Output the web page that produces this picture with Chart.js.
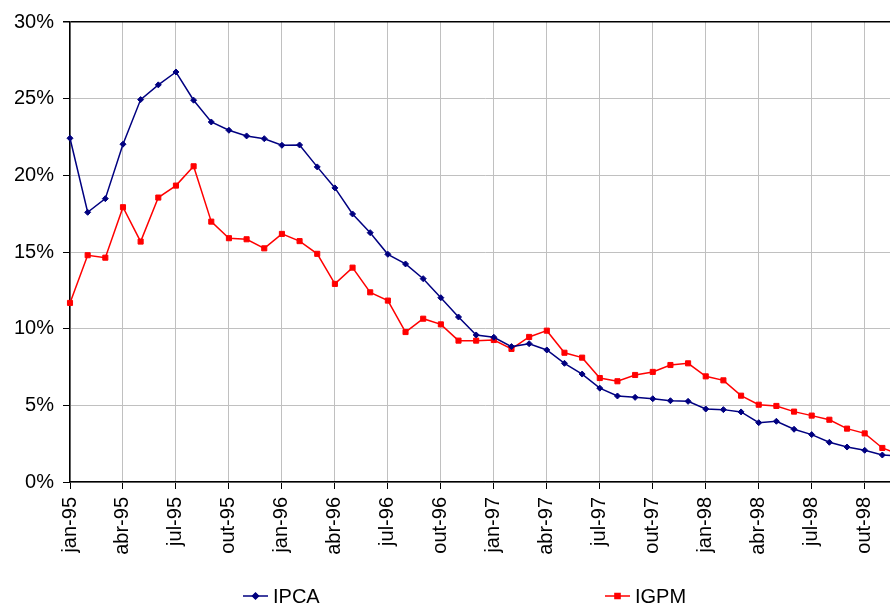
<!DOCTYPE html>
<html lang="pt">
  <head>
    <meta charset="utf-8" />
    <title>IPCA x IGPM</title>
    <script src="https://cdn.jsdelivr.net/npm/chart.js"></script>
    <style>
      html, body { margin: 0; padding: 0; background: #fff; overflow: hidden; }
      #wrap { position: relative; width: 905px; height: 604px; }
    </style>
  </head>
  <body>
    <div id="wrap"><canvas id="myChart"></canvas></div>
    <script>
      const monthNames = ["jan", "fev", "mar", "abr", "mai", "jun", "jul", "ago", "set", "out", "nov", "dez"];
      const years = ["95", "96", "97", "98"];
      const labels = [];
      years.forEach((y) => monthNames.forEach((m) => labels.push(m + "-" + y)));

      // variação acumulada em 12 meses (%)
      const ipca = [
        22.42, 17.59, 18.48, 22.03, 24.94, 25.90, 26.74, 24.90, 23.48, 22.94, 22.57, 22.39,
        21.96, 21.98, 20.55, 19.18, 17.48, 16.26, 14.85, 14.22, 13.26, 12.02, 10.76, 9.59,
        9.44, 8.83, 9.02, 8.61, 7.74, 7.04, 6.12, 5.61, 5.52, 5.43, 5.30, 5.26,
        4.76, 4.72, 4.57, 3.87, 3.96, 3.44, 3.09, 2.59, 2.28, 2.07, 1.76, 1.70,
      ];
      const igpm = [
        11.68, 14.79, 14.63, 17.92, 15.68, 18.55, 19.33, 20.59, 16.98, 15.90, 15.83, 15.24,
        16.18, 15.71, 14.88, 12.92, 13.98, 12.37, 11.83, 9.78, 10.65, 10.28, 9.22, 9.22,
        9.26, 8.68, 9.46, 9.87, 8.43, 8.11, 6.78, 6.57, 6.98, 7.18, 7.63, 7.74,
        6.89, 6.63, 5.63, 5.04, 4.96, 4.59, 4.33, 4.06, 3.48, 3.17, 2.22, 1.78,
      ];
      const yTicks = [0, 5, 10, 15, 20, 25, 30];

      const FONT = "'Liberation Sans', Arial, sans-serif";

      // legenda desenhada embaixo, como no gráfico original
      const bottomLegend = {
        id: "bottomLegend",
        afterDraw(chart) {
          const c = chart.ctx;
          const spots = [243, 605];
          chart.data.datasets.forEach((ds, i) => {
            const x = spots[i];
            const y = 596;
            c.save();
            c.strokeStyle = ds.borderColor;
            c.lineWidth = 1.5;
            c.beginPath();
            c.moveTo(x, y);
            c.lineTo(x + 25, y);
            c.stroke();
            Chart.helpers.drawPoint(c, {
              pointStyle: ds.pointStyle,
              radius: ds.pointRadius,
              borderWidth: 1,
            }, x + 12.5, y);
            c.fillStyle = ds.borderColor;
            c.fill();
            c.fillStyle = "#000";
            c.font = "20px " + FONT;
            c.textBaseline = "alphabetic";
            c.fillText(ds.label, x + 30, y + 7);
            c.restore();
          });
        },
      };

      const ctx = document.getElementById("myChart");
      const myChart = new Chart(ctx, {
        type: "line",
        data: {
          labels: labels,
          datasets: [
            {
              label: "IPCA",
              data: ipca,
              borderColor: "#000080",
              backgroundColor: "#000080",
              borderWidth: 1.5,
              pointStyle: "rectRot",
              pointRadius: 3,
              pointBorderWidth: 1,
              tension: 0,
            },
            {
              label: "IGPM",
              data: igpm,
              borderColor: "#ff0000",
              backgroundColor: "#ff0000",
              borderWidth: 1.5,
              pointStyle: "rect",
              pointRadius: 3.6,
              pointBorderWidth: 1,
              tension: 0,
            },
          ],
        },
        options: {
          responsive: true,
          maintainAspectRatio: false,
          animation: false,
          layout: { padding: { top: 22, right: 4.5, left: 0, bottom: 0 } },
          plugins: { legend: { display: false }, tooltip: { enabled: false } },
          scales: {
            x: {
              offset: false,
              grid: {
                color: "#c0c0c0",
                tickColor: "#000",
                tickLength: 7,
                lineWidth: 1,
              },
              border: { color: "#000", width: 1.5 },
              ticks: {
                autoSkip: false,
                minRotation: 90,
                maxRotation: 90,
                padding: 8,
                color: "#000",
                font: { family: FONT, size: 20 },
                callback: (v, i) => (i % 3 === 0 ? labels[i] : null),
              },
              afterFit(scale) {
                scale.height = 122;
                scale.paddingLeft = 0;
                scale.paddingRight = 0;
              },
            },
            y: {
              min: 0,
              max: 30,
              grid: {
                color: (c) => (c.tick && c.tick.value === 30 ? "#000" : "#c0c0c0"),
                lineWidth: (c) => (c.tick && c.tick.value === 30 ? 1.5 : 1),
                tickColor: "#000",
                tickLength: 7,
              },
              border: { color: "#000", width: 1.5 },
              afterBuildTicks(scale) {
                scale.ticks = yTicks.map((v) => ({ value: v }));
              },
              ticks: {
                padding: 9,
                color: "#000",
                font: { family: FONT, size: 20 },
                callback: (v) => v + "%",
              },
              afterFit(scale) {
                scale.width = 70;
                scale.paddingTop = 0;
                scale.paddingBottom = 0;
              },
            },
          },
        },
        plugins: [bottomLegend],
      });
    </script>
  </body>
</html>
